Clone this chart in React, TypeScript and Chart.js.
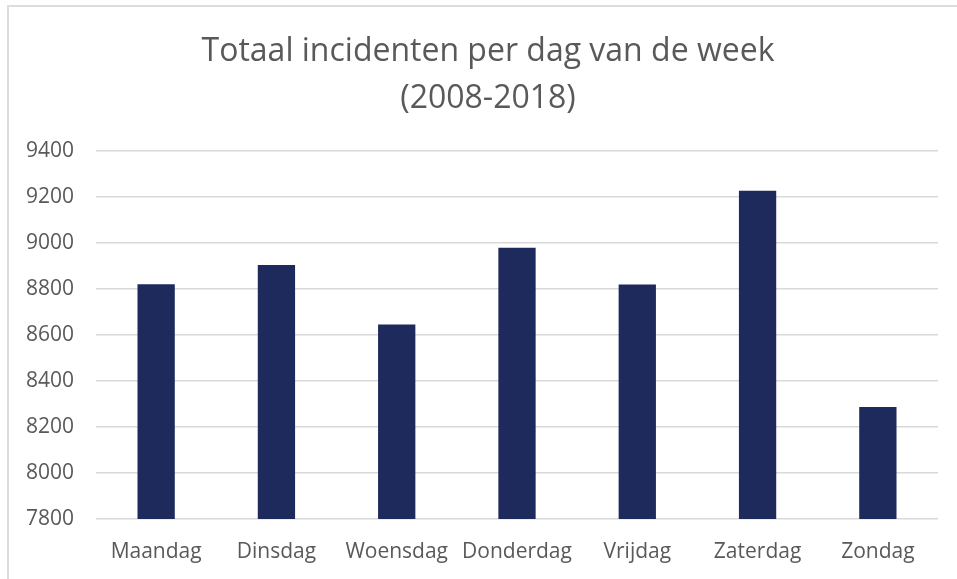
import React, { useEffect, useRef } from "react";
import { Chart, registerables } from "chart.js";

Chart.register(...registerables);

const categories = ["Maandag", "Dinsdag", "Woensdag", "Donderdag", "Vrijdag", "Zaterdag", "Zondag"];
const incidents = [8820, 8904, 8645, 8979, 8819, 9226, 8287];
const titleLines = ["Totaal incidenten per dag van de week", "(2008-2018)"];
const yMin = 7800;
const yMax = 9400;
const yStep = 200;

export default function App() {
  const ref = useRef<HTMLCanvasElement | null>(null);

  useEffect(() => {
    if (!ref.current) return;
    const chart = new Chart(ref.current, {
      type: "bar",
      data: {
        labels: categories,
        datasets: [
          {
            data: incidents,
            backgroundColor: "#1E295C",
            borderWidth: 0,
            categoryPercentage: 1,
            barPercentage: 0.31,
          },
        ],
      },
      options: {
        responsive: false,
        animation: false,
        layout: { padding: { left: 19, right: 0, top: 0, bottom: 0 } },
        plugins: {
          legend: { display: false },
          tooltip: { enabled: false },
          title: {
            display: true,
            text: titleLines,
            color: "#595959",
            font: { family: "'Open Sans', sans-serif", size: 32, weight: "normal", lineHeight: 1.45 },
            padding: { top: 29, bottom: 29 },
          },
        },
        scales: {
          x: {
            grid: { display: false, drawTicks: false },
            border: { display: false },
            ticks: {
              color: "#595959",
              font: { family: "'Open Sans', sans-serif", size: 21 },
              padding: 20,
              maxRotation: 0,
            },
            afterFit: (scale: any) => {
              scale.height = 60;
            },
          },
          y: {
            min: yMin,
            max: yMax,
            grid: { color: "#d9d9d9", lineWidth: 1.5, drawTicks: false },
            border: { display: false },
            ticks: {
              stepSize: yStep,
              color: "#595959",
              font: { family: "'Open Sans', sans-serif", size: 21 },
              padding: 22,
              callback: (v: any) => String(v),
            },
            afterFit: (scale: any) => {
              scale.width = 77;
            },
          },
          yRight: {
            position: "right",
            display: true,
            grid: { display: false, drawTicks: false },
            border: { display: false },
            ticks: { display: false },
            afterFit: (scale: any) => {
              scale.width = 19;
            },
          },
        },
      },
    });
    return () => chart.destroy();
  }, []);

  return (
    <div style={{ position: "fixed", left: 0, top: 0, width: 957, height: 579, background: "#fff", overflow: "hidden" }}>
      <div
        style={{
          position: "absolute",
          left: 7,
          top: 5,
          width: 960,
          height: 590,
          borderTop: "2px solid #dcdcdc",
          borderLeft: "2px solid #dcdcdc",
          boxSizing: "border-box",
        }}
      />
      <canvas ref={ref} width={957} height={579} style={{ position: "absolute", left: 0, top: 0 }} />
    </div>
  );
}
